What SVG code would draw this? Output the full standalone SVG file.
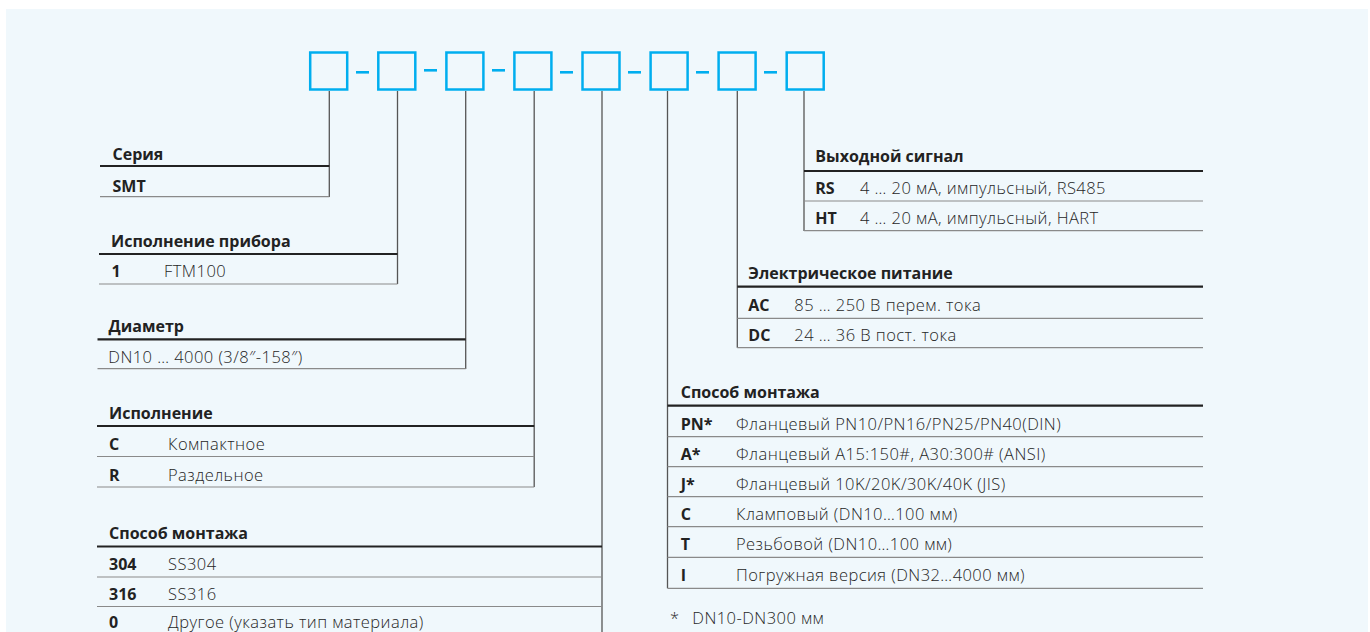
<svg xmlns="http://www.w3.org/2000/svg" width="1370" height="632" viewBox="0 0 1370 632">
<style>
.box{fill:none;stroke:#00aeef;stroke-width:2.5}
.dash{stroke:#00aeef;stroke-width:2.6}
.conn{stroke:#555;stroke-width:1.3;fill:none}
.hl{stroke:#222;stroke-width:2.2}
.rl{stroke:#8a8a8a;stroke-width:1.2}
text{font-family:"Open Sans","Noto Sans","Liberation Sans",sans-serif}
.h{font-size:16px;font-weight:700;fill:#222}
.c{font-size:16px;font-weight:700;fill:#222}
.d{font-size:16.5px;font-weight:300;fill:#262626;letter-spacing:0.45px}
</style>
<rect x="0" y="0" width="1370" height="632" fill="#ffffff"/>
<rect x="6" y="9" width="1362" height="630" fill="#f0f8fc"/>

<g id="code">
<rect class="box" x="310.2" y="52.5" width="37" height="37"/>
<rect class="box" x="378.3" y="52.5" width="37" height="37"/>
<rect class="box" x="446.4" y="52.5" width="37" height="37"/>
<rect class="box" x="514.4" y="52.5" width="37" height="37"/>
<rect class="box" x="582.5" y="52.5" width="37" height="37"/>
<rect class="box" x="650.6" y="52.5" width="37" height="37"/>
<rect class="box" x="718.6" y="52.5" width="37" height="37"/>
<rect class="box" x="786.7" y="52.5" width="37" height="37"/>
<line class="dash" x1="356" y1="72.3" x2="369" y2="72.3"/>
<line class="dash" x1="424" y1="70.3" x2="437" y2="70.3"/>
<line class="dash" x1="492" y1="70.3" x2="505" y2="70.3"/>
<line class="dash" x1="560" y1="72.3" x2="573" y2="72.3"/>
<line class="dash" x1="628" y1="72.3" x2="641" y2="72.3"/>
<line class="dash" x1="696" y1="72.3" x2="709" y2="72.3"/>
<line class="dash" x1="764" y1="72.3" x2="777" y2="72.3"/>
</g>

<g id="connectors">
<line class="conn" x1="329.3" y1="91" x2="329.3" y2="197"/>
<line class="conn" x1="397.5" y1="91" x2="397.5" y2="284"/>
<line class="conn" x1="465.7" y1="91" x2="465.7" y2="369"/>
<line class="conn" x1="534.2" y1="91" x2="534.2" y2="487"/>
<line class="conn" x1="602" y1="91" x2="602" y2="632"/>
<line class="conn" x1="667.5" y1="91" x2="667.5" y2="588.3"/>
<line class="conn" x1="737.3" y1="91" x2="737.3" y2="347.7"/>
<line class="conn" x1="804" y1="91" x2="804" y2="231"/>
</g>

<g id="seriya">
<text class="h" x="112.5" y="159.5">Серия</text>
<line class="hl" x1="100" y1="166" x2="329.3" y2="166"/>
<text class="c" x="112.5" y="191.5">SMT</text>
<line class="rl" x1="100" y1="196.7" x2="329.3" y2="196.7"/>
</g>

<g id="ispolnenie-pribora">
<text class="h" x="111" y="246.7">Исполнение прибора</text>
<line class="hl" x1="99" y1="254" x2="397.5" y2="254"/>
<text class="c" x="111.5" y="277.3">1</text>
<text class="d" x="164" y="277.3">FTM100</text>
<line class="rl" x1="99" y1="284" x2="397.5" y2="284"/>
</g>

<g id="diametr">
<text class="h" x="108.5" y="331.7">Диаметр</text>
<line class="hl" x1="97.5" y1="339.3" x2="465.7" y2="339.3"/>
<text class="d" x="108.3" y="363">DN10 … 4000 (3/8″-158″)</text>
<line class="rl" x1="97.5" y1="368.7" x2="465.7" y2="368.7"/>
</g>

<g id="ispolnenie">
<text class="h" x="109" y="418.5">Исполнение</text>
<line class="hl" x1="97" y1="426" x2="534.2" y2="426"/>
<text class="c" x="109" y="450">C</text>
<text class="d" x="168" y="450">Компактное</text>
<line class="rl" x1="97" y1="456.5" x2="534.2" y2="456.5"/>
<text class="c" x="109" y="480.5">R</text>
<text class="d" x="168" y="480.5">Раздельное</text>
<line class="rl" x1="97" y1="487" x2="534.2" y2="487"/>
</g>

<g id="sposob-montazha-material">
<text class="h" x="109" y="539">Способ монтажа</text>
<line class="hl" x1="97" y1="546.5" x2="602" y2="546.5"/>
<text class="c" x="109" y="570">304</text>
<text class="d" x="168" y="570">SS304</text>
<line class="rl" x1="97" y1="577" x2="602" y2="577"/>
<text class="c" x="109" y="600">316</text>
<text class="d" x="168" y="600">SS316</text>
<line class="rl" x1="97" y1="606.5" x2="602" y2="606.5"/>
<text class="c" x="109" y="628">0</text>
<text class="d" x="168" y="628">Другое (указать тип материала)</text>
</g>

<g id="vyhodnoy-signal">
<text class="h" x="815.3" y="161.7">Выходной сигнал</text>
<line class="hl" x1="804" y1="171" x2="1203" y2="171"/>
<text class="c" x="815.3" y="194.3">RS</text>
<text class="d" x="860" y="194.3">4 … 20 мА, импульсный, RS485</text>
<line class="rl" x1="804" y1="201" x2="1203" y2="201"/>
<text class="c" x="815.3" y="224.3">HT</text>
<text class="d" x="860" y="224.3">4 … 20 мА, импульсный, HART</text>
<line class="rl" x1="804" y1="230.7" x2="1203" y2="230.7"/>
</g>

<g id="pitanie">
<text class="h" x="748.3" y="279">Электрическое питание</text>
<line class="hl" x1="737.3" y1="286.7" x2="1203" y2="286.7"/>
<text class="c" x="748.3" y="310.7">AC</text>
<text class="d" x="794.3" y="310.7">85 … 250 В перем. тока</text>
<line class="rl" x1="737.3" y1="318.3" x2="1203" y2="318.3"/>
<text class="c" x="748.3" y="340.5">DC</text>
<text class="d" x="794.3" y="340.5">24 … 36 В пост. тока</text>
<line class="rl" x1="737.3" y1="347.7" x2="1203" y2="347.7"/>
</g>

<g id="sposob-montazha">
<text class="h" x="680.7" y="398.3">Способ монтажа</text>
<line class="hl" x1="667.5" y1="405.7" x2="1203" y2="405.7"/>
<text class="c" x="680.7" y="429.5">PN*</text>
<text class="d" x="736" y="429.5">Фланцевый PN10/PN16/PN25/PN40(DIN)</text>
<line class="rl" x1="667.5" y1="436.7" x2="1203" y2="436.7"/>
<text class="c" x="680.7" y="459.8">A*</text>
<text class="d" x="736" y="459.8">Фланцевый A15:150#, A30:300# (ANSI)</text>
<line class="rl" x1="667.5" y1="466.7" x2="1203" y2="466.7"/>
<text class="c" x="680.7" y="489.8">J*</text>
<text class="d" x="736" y="489.8">Фланцевый 10K/20K/30K/40K (JIS)</text>
<line class="rl" x1="667.5" y1="496.7" x2="1203" y2="496.7"/>
<text class="c" x="680.7" y="519.8">C</text>
<text class="d" x="736" y="519.8">Кламповый (DN10…100 мм)</text>
<line class="rl" x1="667.5" y1="526.7" x2="1203" y2="526.7"/>
<text class="c" x="680.7" y="550.3">T</text>
<text class="d" x="736" y="550.3">Резьбовой (DN10…100 мм)</text>
<line class="rl" x1="667.5" y1="557.3" x2="1203" y2="557.3"/>
<text class="c" x="680.7" y="581">I</text>
<text class="d" x="736" y="581">Погружная версия (DN32…4000 мм)</text>
<line class="rl" x1="667.5" y1="588.3" x2="1203" y2="588.3"/>
</g>

<g id="footnote">
<text class="d" x="670" y="624">*</text>
<text class="d" x="692.3" y="624">DN10-DN300 мм</text>
</g>
</svg>
